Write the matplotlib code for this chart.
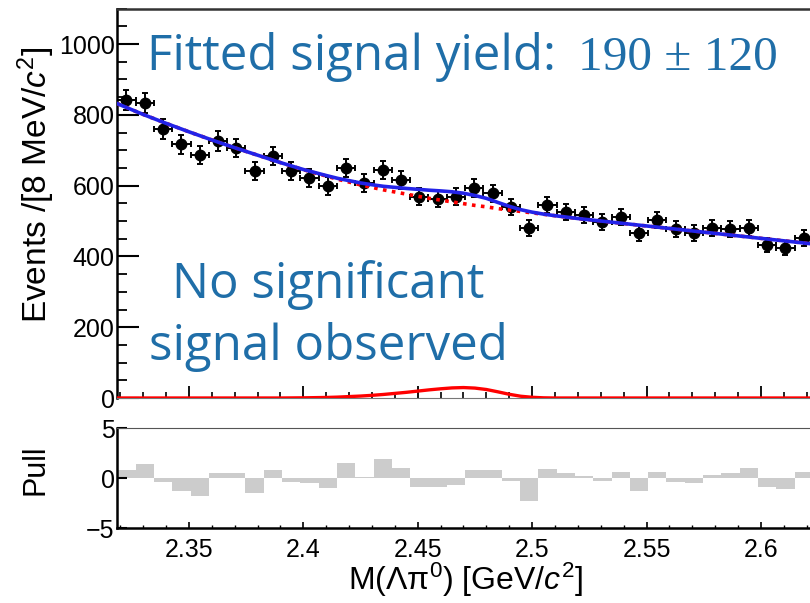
import numpy as np
import matplotlib.pyplot as plt
from matplotlib.ticker import MultipleLocator, FormatStrFormatter

plt.rcParams['font.family'] = ['Liberation Sans', 'DejaVu Sans']
plt.rcParams['mathtext.fontset'] = 'custom'
plt.rcParams['mathtext.rm'] = 'Liberation Sans'
plt.rcParams['mathtext.it'] = 'Liberation Sans:italic'

# 8 MeV bins, first bin edge at the left of the frame
x_lo = 2.3187
bin_w = 0.008

counts = [842, 833, 760, 717, 686, 726, 706, 641, 684, 641,
          621, 599, 650, 607, 644, 616, 568, 562, 568, 593,
          579, 540, 480, 545, 525, 517, 497, 511, 466, 503,
          477, 466, 480, 477, 480, 432, 424, 452]

pulls = [0.83, 1.43, -0.4, -1.23, -1.77, 0.5, 0.5, -1.5, 0.83, -0.33,
         -0.5, -1.0, 1.5, 0.1, 1.93, 1.07, -0.9, -0.9, -0.67, 0.83,
         0.83, -0.23, -2.27, 0.93, 0.5, 0.27, -0.27, 0.6, -1.23, 0.67,
         -0.33, -0.5, 0.33, 0.5, 1.07, -0.9, -1.07, 0.67]

# fit curves
curve_x = [2.315, 2.32, 2.33, 2.34, 2.35, 2.36, 2.37, 2.38, 2.39, 2.40,
           2.405, 2.41, 2.415, 2.42, 2.425, 2.43, 2.435, 2.44, 2.445, 2.45,
           2.455, 2.46, 2.465, 2.47, 2.475, 2.48, 2.485, 2.49, 2.495, 2.50,
           2.505, 2.51, 2.52, 2.53, 2.54, 2.55, 2.56, 2.57, 2.58, 2.59,
           2.60, 2.61, 2.62, 2.63]
bkg_y = [842, 828, 801, 776, 752, 729, 707, 686, 665, 645,
         636, 627, 618, 610, 602, 595, 588, 582, 576, 570,
         564, 559, 554, 549, 544, 540, 535, 531, 527, 523,
         519, 515, 507, 500, 493, 486, 479, 472, 465, 458,
         451, 444, 437, 430]
sig_y = [0, 0, 0, 0, 0, 0, 0, 0, 0, 0.5,
         1, 1.5, 2.5, 4, 5.5, 7.5, 10, 13, 16, 19.5,
         23, 26, 28.5, 29.5, 28, 24, 17.5, 10.5, 5, 2,
         0.5, 0, 0, 0, 0, 0, 0, 0, 0, 0,
         0, 0, 0, 0]

centers = x_lo + bin_w * (np.arange(len(counts)) + 0.5)
counts = np.array(counts)
tot_y = np.array(bkg_y) + np.array(sig_y)

W, H = 810, 603
fig = plt.figure(figsize=(W / 100, H / 100), dpi=100)
left = 117.3 / W
ax1 = fig.add_axes([left, 1 - 398 / H, 1 - left, 389.4 / H])
ax2 = fig.add_axes([left, 1 - 528.3 / H, 1 - left, 100 / H])

x_hi = x_lo + 692.7 / 2288

# top panel
ax1.errorbar(centers, counts, yerr=np.sqrt(counts), xerr=bin_w / 2,
             fmt='o', color='black', ms=7.5, elinewidth=1.4,
             capsize=2.5, capthick=1.4, zorder=2)
ax1.plot(curve_x, bkg_y, color='red', lw=2.6, ls=(0, (1, 1.5)), zorder=3)
ax1.plot(curve_x, tot_y, color='#2323e8', lw=2.6, zorder=4)
ax1.plot(curve_x, sig_y, color='red', lw=2.4, zorder=5)

ax1.set_xlim(x_lo, x_hi)
ax1.set_ylim(0, 1100)
ax1.xaxis.set_major_locator(MultipleLocator(0.05))
ax1.xaxis.set_minor_locator(MultipleLocator(0.01))
ax1.yaxis.set_major_locator(MultipleLocator(200))
ax1.yaxis.set_minor_locator(MultipleLocator(50))
ax1.tick_params(axis='x', which='both', direction='in', labelbottom=False)
ax1.tick_params(axis='x', which='major', length=9, width=1.3)
ax1.tick_params(axis='x', which='minor', length=4, width=1.2)
ax1.tick_params(axis='y', which='both', direction='in', labelsize=18, pad=2)
ax1.tick_params(axis='y', which='major', length=16, width=1.5)
ax1.tick_params(axis='y', which='minor', length=7.5, width=1.3)
ax1.spines['right'].set_visible(False)
ax1.spines['left'].set_linewidth(1.8)
ax1.spines['top'].set_linewidth(1.8)
ax1.spines['top'].set_color('#333333')
ax1.spines['bottom'].set_color('#777777')

# pull panel
ax2.bar(centers, pulls, width=bin_w, color='#cccccc', linewidth=0)
ax2.set_xlim(x_lo, x_hi)
ax2.set_ylim(-5, 5)
ax2.set_yticks([-5, 0, 5])
ax2.xaxis.set_major_locator(MultipleLocator(0.05))
ax2.xaxis.set_minor_locator(MultipleLocator(0.01))
ax2.xaxis.set_major_formatter(FormatStrFormatter('%g'))
ax2.tick_params(axis='x', which='both', direction='in', labelsize=18, pad=7)
ax2.tick_params(axis='x', which='major', length=4, width=1.2)
ax2.tick_params(axis='x', which='minor', length=2, width=1)
ax2.tick_params(axis='y', direction='in', labelsize=18, pad=2, length=7, width=1.5)
ax2.spines['right'].set_visible(False)
ax2.spines['left'].set_linewidth(1.8)
ax2.spines['bottom'].set_linewidth(1.8)
ax2.spines['top'].set_color('#555555')

# labels
fig.text(36 / W, 1 - 185 / H, 'Events /[8 MeV/$c^{2}$]', rotation=90,
         ha='center', va='center', fontsize=24)
fig.text(36 / W, 1 - 470 / H, 'Pull', rotation=90,
         ha='center', va='center', fontsize=22)
fig.text(466 / W, 1 - 580 / H, 'M(Λπ$^{0}$) [GeV/$c^{2}$]',
         ha='center', va='center', fontsize=23)

blue = '#1f6ea8'
fig.text(147 / W, 1 - 70 / H, 'Fitted signal yield:', color=blue,
         fontsize=35.5, family='Open Sans', va='baseline')
fig.text(578 / W, 1 - 70 / H, '190 ± 120', color=blue,
         fontsize=35.5, family='Liberation Serif', va='baseline')
fig.text(328 / W, 1 - 298 / H, 'No significant', color=blue,
         fontsize=35.5, family='Open Sans', va='baseline', ha='center')
fig.text(328 / W, 1 - 360 / H, 'signal observed', color=blue,
         fontsize=35.5, family='Open Sans', va='baseline', ha='center')

fig.savefig('out.png', dpi=100)
